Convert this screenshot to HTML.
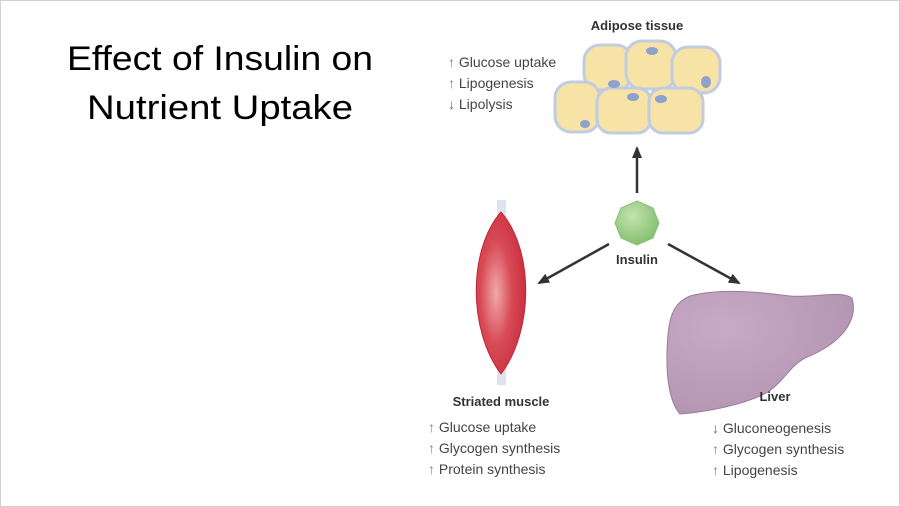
<!DOCTYPE html>
<html><head><meta charset="utf-8"><style>
html,body{margin:0;padding:0;background:#fff}
svg{display:block}
text{font-family:"Liberation Sans",sans-serif}
</style></head><body>
<svg width="900" height="507" viewBox="0 0 900 507">
<defs>
<radialGradient id="mus" cx="0.4" cy="0.5" r="0.7"><stop offset="0" stop-color="#f0aaa8"/><stop offset="0.45" stop-color="#d84a56"/><stop offset="1" stop-color="#c42638"/></radialGradient>
<radialGradient id="liv" cx="0.3" cy="0.3" r="0.8"><stop offset="0" stop-color="#c9aac6"/><stop offset="1" stop-color="#b293b0"/></radialGradient>
<radialGradient id="ins" cx="0.4" cy="0.35" r="0.7"><stop offset="0" stop-color="#c4e4b0"/><stop offset="1" stop-color="#7fbc6c"/></radialGradient>
<marker id="ah" markerUnits="userSpaceOnUse" markerWidth="12" markerHeight="10" refX="10" refY="5" orient="auto"><path d="M0,0 L12,5 L0,10 Z" fill="#333"/></marker>
</defs>
<rect x="0.5" y="0.5" width="899" height="506" fill="#fff" stroke="#d0d0d0"/>
<g font-size="34" fill="#000">
<text x="67" y="70" textLength="306" lengthAdjust="spacingAndGlyphs">Effect of Insulin on</text>
<text x="87" y="119" textLength="266" lengthAdjust="spacingAndGlyphs">Nutrient Uptake</text>
</g>
<g>
<text x="637" y="30" text-anchor="middle" font-size="13" font-weight="bold" fill="#333">Adipose tissue</text>
<rect x="584" y="45" width="48" height="45" rx="16" fill="#f7e3a6" stroke="#c0cce0" stroke-width="3"/>
<rect x="626" y="41" width="50" height="48" rx="16" fill="#f7e3a6" stroke="#c0cce0" stroke-width="3"/>
<rect x="672" y="47" width="48" height="46" rx="16" fill="#f7e3a6" stroke="#c0cce0" stroke-width="3"/>
<rect x="555" y="82" width="45" height="50" rx="16" fill="#f7e3a6" stroke="#c0cce0" stroke-width="3"/>
<rect x="597" y="88" width="54" height="45" rx="14" fill="#f7e3a6" stroke="#c0cce0" stroke-width="3"/>
<rect x="649" y="88" width="54" height="45" rx="14" fill="#f7e3a6" stroke="#c0cce0" stroke-width="3"/>
<ellipse cx="652" cy="51" rx="6" ry="4" fill="#8ea3cc"/>
<ellipse cx="614" cy="84" rx="6" ry="4" fill="#8ea3cc"/>
<ellipse cx="706" cy="82" rx="5" ry="6" fill="#8ea3cc"/>
<ellipse cx="633" cy="97" rx="6" ry="4" fill="#8ea3cc"/>
<ellipse cx="661" cy="99" rx="6" ry="4" fill="#8ea3cc"/>
<ellipse cx="585" cy="124" rx="5" ry="4" fill="#8ea3cc"/>
</g>
<g font-size="14" fill="#444">
<text x="448" y="67"><tspan fill="#3aa597">↑</tspan> Glucose uptake</text>
<text x="448" y="88"><tspan fill="#3aa597">↑</tspan> Lipogenesis</text>
<text x="448" y="109"><tspan fill="#c83a44">↓</tspan> Lipolysis</text>
</g>
<g>
<polygon points="637,201 653,208 659,223 653,238 637,245 621,238 615,223 621,208" fill="url(#ins)" stroke="#8cc07a"/>
<text x="637" y="264" text-anchor="middle" font-size="13" font-weight="bold" fill="#333">Insulin</text>
</g>
<g stroke="#333" stroke-width="2.5" fill="none">
<line x1="637" y1="193" x2="637" y2="148" marker-end="url(#ah)"/>
<line x1="609" y1="244" x2="539" y2="283" marker-end="url(#ah)"/>
<line x1="668" y1="244" x2="739" y2="283" marker-end="url(#ah)"/>
</g>
<g>
<rect x="497" y="200" width="9" height="185" fill="#dfe3ef"/>
<path d="M501,212 C468,250 468,330 501,374 C534,330 534,250 501,212 Z" fill="url(#mus)" stroke="#c0283a"/>
<text x="501" y="406" text-anchor="middle" font-size="13" font-weight="bold" fill="#333">Striated muscle</text>
</g>
<g font-size="14" fill="#444">
<text x="428" y="432"><tspan fill="#3aa597">↑</tspan> Glucose uptake</text>
<text x="428" y="453"><tspan fill="#3aa597">↑</tspan> Glycogen synthesis</text>
<text x="428" y="474"><tspan fill="#3aa597">↑</tspan> Protein synthesis</text>
</g>
<g>
<path d="M690,296 C720,288 760,292 790,296 C815,298 840,290 852,298 C858,318 845,342 805,358 C790,366 785,380 768,392 C745,405 705,412 680,414 C668,400 665,370 668,335 C670,312 676,302 690,296 Z" fill="url(#liv)" stroke="#9a7d98"/>
<text x="775" y="401" text-anchor="middle" font-size="13" font-weight="bold" fill="#333">Liver</text>
</g>
<g font-size="14" fill="#444">
<text x="712" y="433"><tspan fill="#c83a44">↓</tspan> Gluconeogenesis</text>
<text x="712" y="454"><tspan fill="#3aa597">↑</tspan> Glycogen synthesis</text>
<text x="712" y="475"><tspan fill="#3aa597">↑</tspan> Lipogenesis</text>
</g>
</svg>
</body></html>
